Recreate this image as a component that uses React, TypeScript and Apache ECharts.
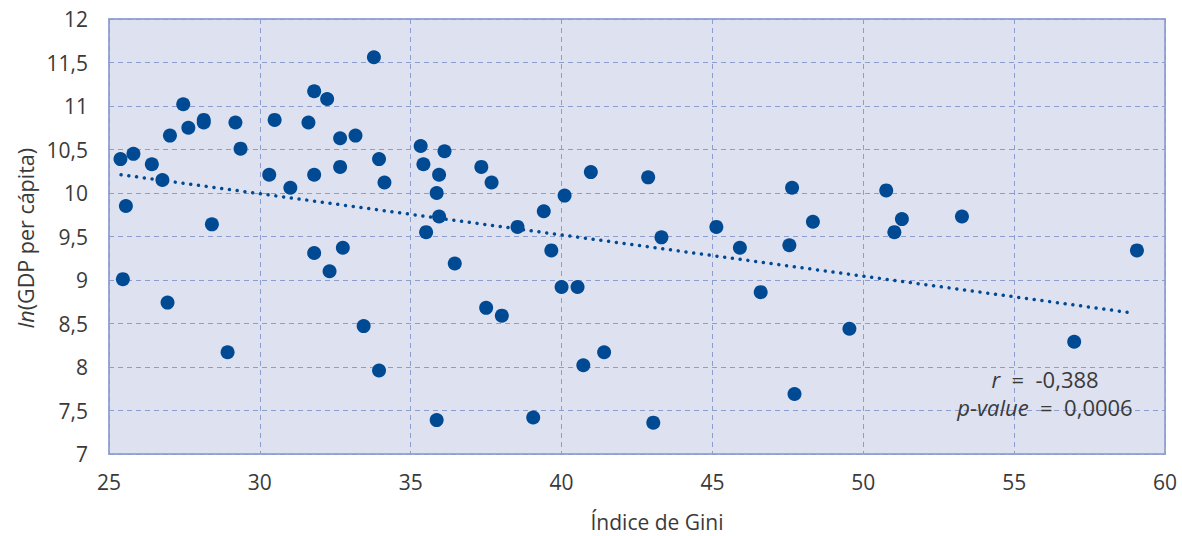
import React, { useEffect, useRef } from "react";
import * as echarts from "echarts";

const giniIndex = [
  25.38, 25.81, 26.42, 26.77, 25.56, 25.46, 27.02, 27.46, 27.63, 28.14, 28.14,
  29.19, 29.36, 28.41, 26.94, 28.93, 30.49, 30.31, 31.01, 31.8, 32.23, 31.61,
  32.66, 33.17, 31.8, 32.66, 33.78, 33.95, 34.13, 31.8, 32.75, 32.31, 33.44,
  33.95, 35.33, 36.12, 35.42, 35.94, 35.86, 35.94, 35.51, 36.46, 37.34, 37.68,
  38.54, 39.41, 40.1, 39.66, 40.97, 42.87, 43.31, 40.0, 40.53, 37.5, 38.02,
  40.72, 41.41, 35.86, 39.06, 43.04, 45.13, 45.91, 46.6, 47.64, 47.55, 48.33,
  47.72, 49.54, 50.76, 51.28, 51.03, 53.27, 56.99, 59.07,
];
const lnGdpPerCapita = [
  10.39, 10.45, 10.33, 10.15, 9.85, 9.01, 10.66, 11.02, 10.75, 10.84, 10.81,
  10.81, 10.51, 9.64, 8.74, 8.17, 10.84, 10.21, 10.06, 11.17, 11.08, 10.81,
  10.63, 10.66, 10.21, 10.3, 11.56, 10.39, 10.12, 9.31, 9.37, 9.1, 8.47,
  7.96, 10.54, 10.48, 10.33, 10.21, 10.0, 9.73, 9.55, 9.19, 10.3, 10.12,
  9.61, 9.79, 9.97, 9.34, 10.24, 10.18, 9.49, 8.92, 8.92, 8.68, 8.59,
  8.02, 8.17, 7.39, 7.42, 7.36, 9.61, 9.37, 8.86, 10.06, 9.4, 9.67,
  7.69, 8.44, 10.03, 9.7, 9.55, 9.73, 8.29, 9.34,
];
const trendX = [25.4, 58.95];
const trendY = [10.21, 8.62];
const xTicks = [25, 30, 35, 40, 45, 50, 55, 60];
const yTicks = [7, 7.5, 8, 8.5, 9, 9.5, 10, 10.5, 11, 11.5, 12];
const statLines = ["-0,388", "0,0006"];

const BLUE = "#004a94";
const GRID = "#8e9dd0";
const TEXT = "#3a3a3a";
const FONT = "'Open Sans', 'Noto Sans', sans-serif";

export default function App() {
  const ref = useRef<HTMLDivElement>(null);
  useEffect(() => {
    if (!ref.current) return;
    const chart = echarts.init(ref.current, null, { renderer: "svg" });
    const fmt = (v: number) => String(v).replace(".", ",");
    const italic = (size: number) => ({
      fontStyle: "italic",
      fontSize: size,
      fontFamily: FONT,
      fill: TEXT,
    });
    chart.setOption({
      animation: false,
      textStyle: { fontFamily: FONT },
      grid: {
        left: 109,
        right: 17,
        top: 19,
        bottom: 82,
        show: true,
        backgroundColor: "#dde1f0",
        borderColor: "#9aa8d6",
        borderWidth: 2,
      },
      xAxis: {
        type: "value",
        min: xTicks[0],
        max: xTicks[xTicks.length - 1],
        interval: 5,
        axisLine: { show: false },
        axisTick: { show: false },
        axisLabel: {
          fontSize: 21,
          color: TEXT,
          margin: 17,
          fontFamily: FONT,
          formatter: fmt,
        },
        splitLine: { lineStyle: { color: GRID, type: [5, 4], width: 1 } },
      },
      yAxis: {
        type: "value",
        min: yTicks[0],
        max: yTicks[yTicks.length - 1],
        interval: 0.5,
        axisLine: { show: false },
        axisTick: { show: false },
        axisLabel: {
          fontSize: 21,
          color: TEXT,
          margin: 21,
          fontFamily: FONT,
          formatter: fmt,
        },
        splitLine: { lineStyle: { color: GRID, type: [5, 4], width: 1 } },
      },
      series: [
        {
          type: "line",
          data: trendX.map((x, i) => [x, trendY[i]]),
          showSymbol: false,
          symbol: "none",
          lineStyle: { color: BLUE, width: 3.5, type: [0.01, 7.8], cap: "round" },
          z: 2,
        },
        {
          type: "scatter",
          data: giniIndex.map((x, i) => [x, lnGdpPerCapita[i]]),
          symbolSize: 14,
          itemStyle: { color: BLUE, opacity: 1 },
          z: 3,
        },
      ],
      graphic: [
        {
          type: "text",
          x: 1045,
          y: 379,
          z: 10,
          style: {
            text: "{i|r}  =  " + statLines[0],
            align: "center",
            verticalAlign: "middle",
            fill: TEXT,
            font: `22px ${FONT}`,
            rich: { i: italic(22) },
          },
        },
        {
          type: "text",
          x: 1045,
          y: 407,
          z: 10,
          style: {
            text: "{i|p-value}  =  " + statLines[1],
            align: "center",
            verticalAlign: "middle",
            fill: TEXT,
            font: `22px ${FONT}`,
            rich: { i: italic(22) },
          },
        },
        {
          type: "text",
          x: 657,
          y: 522,
          style: {
            text: "Índice de Gini",
            align: "center",
            verticalAlign: "middle",
            fill: TEXT,
            font: `21px ${FONT}`,
          },
        },
        {
          type: "text",
          x: 25,
          y: 238,
          rotation: Math.PI / 2,
          style: {
            text: "{i|ln}(GDP per cápita)",
            align: "center",
            verticalAlign: "middle",
            fill: TEXT,
            font: `21.5px ${FONT}`,
            rich: { i: italic(21.5) },
          },
        },
      ],
    });
    return () => chart.dispose();
  }, []);
  return (
    <div
      ref={ref}
      style={{ position: "absolute", left: 0, top: 0, width: 1182, height: 536 }}
    />
  );
}
